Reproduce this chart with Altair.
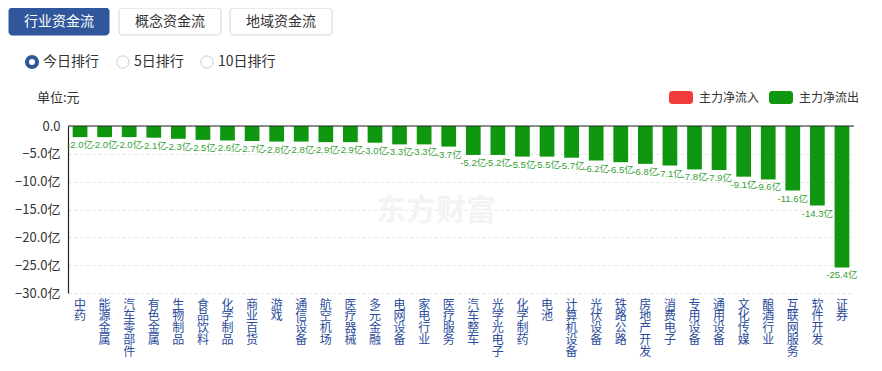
import altair as alt
import pandas as pd

# ---- data ----
industries = ["中药", "能源金属", "汽车零部件", "有色金属", "生物制品", "食品饮料", "化学制品", "商业百货",
              "游戏", "通信设备", "航空机场", "医疗器械", "多元金融", "电网设备", "家电行业", "医疗服务",
              "汽车整车", "光学光电子", "化学制药", "电池", "计算机设备", "光伏设备", "铁路公路", "房地产开发",
              "消费电子", "专用设备", "通用设备", "文化传媒", "酿酒行业", "互联网服务", "软件开发", "证券"]
net_flow = [-2.0, -2.0, -2.0, -2.1, -2.3, -2.5, -2.6, -2.7,
            -2.8, -2.8, -2.9, -2.9, -3.0, -3.3, -3.3, -3.7,
            -5.2, -5.2, -5.5, -5.5, -5.7, -6.2, -6.5, -6.8,
            -7.1, -7.8, -7.9, -9.1, -9.6, -11.6, -14.3, -25.4]
y_ticks = [0, -5, -10, -15, -20, -25, -30]
tabs = ["行业资金流", "概念资金流", "地域资金流"]
ranks = ["今日排行", "5日排行", "10日排行"]
legend_items = ["主力净流入", "主力净流出"]
unit_text = "单位:元"
watermark = "东方财富"

df = pd.DataFrame({"industry": industries, "flow": net_flow})
df["label"] = [f"{v:.1f}亿" for v in net_flow]
zero_df = pd.DataFrame({"flow": [0.0]})

FONT = "Noto Sans CJK SC"
GREEN = "#0f980f"
RED = "#f23c3c"
BLUE = "#30579c"

W, H = 786, 167
one = pd.DataFrame({"d": [0]})

xenc = alt.X("industry:N", sort=industries, title=None,
             scale=alt.Scale(paddingInner=0.4, paddingOuter=0.19),
             axis=alt.Axis(domain=False, ticks=False, grid=False, labelAngle=0,
                           labelExpr="split(datum.label, '')", labelFontSize=12,
                           labelLineHeight=11.8, labelColor="#2b4c9b", labelPadding=6,
                           labelBaseline="top", labelOverlap=False, labelFont=FONT,
                           labelLimit=0))
yaxis = alt.Axis(values=y_ticks, tickCount=7, domainColor="#222", domainWidth=1.2, ticks=False,
                 gridColor="#e3e3e3", gridDash=[3, 3], labelOverlap=False,
                 labelFlush=False, labelBound=False,
                 labelExpr="datum.value == 0 ? '0.0' : format(datum.value, '.1f') + '亿'",
                 labelFontSize=13, labelColor="#333", labelPadding=8, labelFont=FONT)
yenc = alt.Y("flow:Q", title=None, scale=alt.Scale(domain=[-30, 0], nice=False), axis=yaxis)

bars = alt.Chart(df).mark_bar(color=GREEN).encode(x=xenc, y=yenc)
labels = alt.Chart(df).mark_text(baseline="top", dy=3, fontSize=9.5,
                                 color="#35a035", font="Liberation Sans, Noto Sans CJK SC").encode(
    x=xenc, y=yenc, text="label:N")
zero = alt.Chart(zero_df).mark_rule(color="#222", strokeWidth=1.2).encode(y=yenc)

layers = [bars, labels, zero]

# watermark
layers.append(alt.Chart(one).mark_text(text=watermark, fontSize=30, fontWeight="bold", font=FONT,
                                       color="#f3f3f3", align="center", baseline="middle").encode(
    x=alt.value(368), y=alt.value(85)))

# tab buttons
tab_x = [(-59, 41), (51, 153), (162, 264)]
for i, (t, (a, b)) in enumerate(zip(tabs, tab_x)):
    active = i == 0
    layers.append(alt.Chart(one).mark_rect(
        fill=BLUE if active else "white", stroke=BLUE if active else "#cfd6e0",
        strokeWidth=1, cornerRadius=3).encode(
        x=alt.value(a), x2=alt.value(b), y=alt.value(-118), y2=alt.value(-91)))
    layers.append(alt.Chart(one).mark_text(
        text=t, fontSize=14, font=FONT, color="white" if active else "#333",
        align="center", baseline="middle").encode(
        x=alt.value((a + b) / 2), y=alt.value(-104.5)))

# radio options
radio_cx = [-36, 55, 139]
for i, (r, cx) in enumerate(zip(ranks, radio_cx)):
    active = i == 0
    if active:
        layers.append(alt.Chart(one).mark_point(shape="circle", filled=True, fill="white",
                                                stroke=BLUE, strokeWidth=4, size=100, opacity=1).encode(
            x=alt.value(cx), y=alt.value(-64)))
    else:
        layers.append(alt.Chart(one).mark_point(shape="circle", filled=True, fill="white",
                                                stroke="#cccccc", strokeWidth=1, size=150, opacity=1).encode(
            x=alt.value(cx), y=alt.value(-64)))
    layers.append(alt.Chart(one).mark_text(text=r, fontSize=14, font=FONT, color="#333",
                                           align="left", baseline="middle").encode(
        x=alt.value(cx + 11), y=alt.value(-64)))

# unit
layers.append(alt.Chart(one).mark_text(text=unit_text, fontSize=13, font=FONT, color="#333",
                                       align="left", baseline="middle").encode(
    x=alt.value(-31), y=alt.value(-28)))

# legend
leg_x = [601, 701]
for name, lx, col in zip(legend_items, leg_x, [RED, GREEN]):
    layers.append(alt.Chart(one).mark_rect(fill=col, cornerRadius=3).encode(
        x=alt.value(lx), x2=alt.value(lx + 24), y=alt.value(-35), y2=alt.value(-22)))
    layers.append(alt.Chart(one).mark_text(text=name, fontSize=12, font=FONT, color="#333",
                                           align="left", baseline="middle").encode(
        x=alt.value(lx + 30), y=alt.value(-28.5)))

chart = alt.layer(*layers).properties(
    width=W, height=H,
    autosize=alt.AutoSizeParams(type="none"),
    padding={"left": 60, "top": 118, "right": 20, "bottom": 68},
).configure(font=FONT).configure_view(stroke=None).configure_axis(labelOverlap=False)

chart.save("out.html", embed_options={"renderer": "svg", "actions": False})
